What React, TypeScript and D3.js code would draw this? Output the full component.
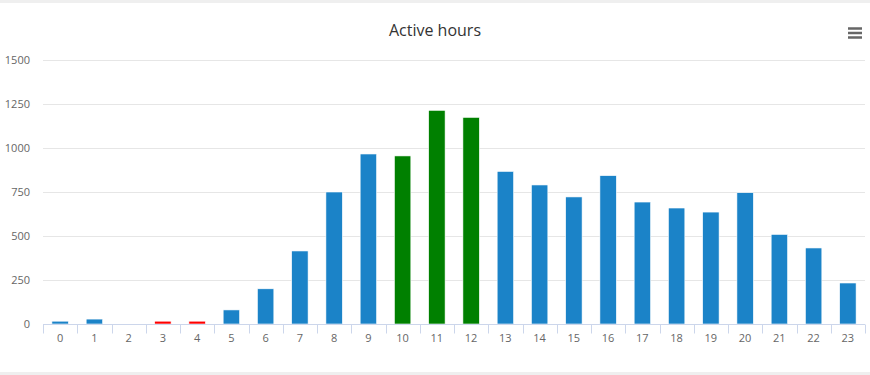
import React, { useEffect, useRef } from 'react'
import * as d3 from 'd3'

const hours = ['0', '1', '2', '3', '4', '5', '6', '7', '8', '9', '10', '11', '12', '13', '14', '15', '16', '17', '18', '19', '20', '21', '22', '23']
const activity = [16, 28, 0, 16, 16, 80, 200, 415, 750, 966, 955, 1214, 1174, 867, 790, 722, 843, 693, 659, 636, 746, 509, 432, 233]
const lowHours = ['3', '4']
const peakHours = ['10', '11', '12']
const yTicks = [0, 250, 500, 750, 1000, 1250, 1500]

const App = () => {
    const ref = useRef<SVGSVGElement>(null)

    useEffect(() => {
        const width = 870
        const height = 375
        const margin = { top: 60, right: 5, bottom: 51, left: 43 }

        const svg = d3.select(ref.current)
        svg.selectAll('*').remove()

        // light frame bands at top and bottom
        svg.append('rect').attr('x', 0).attr('y', 0).attr('width', width).attr('height', 3).attr('fill', '#efefef')
        svg.append('rect').attr('x', 0).attr('y', height - 3).attr('width', width).attr('height', 3).attr('fill', '#efefef')

        svg.append('text')
            .attr('x', width / 2)
            .attr('y', 36)
            .attr('text-anchor', 'middle')
            .attr('font-size', 16)
            .attr('fill', '#333333')
            .text('Active hours')

        // context menu icon
        const menu = svg.append('g').attr('stroke', '#666666').attr('stroke-width', 2.5)
        ;[28.5, 33, 37.5].forEach(y => {
            menu.append('line').attr('x1', 848).attr('x2', 862).attr('y1', y).attr('y2', y)
        })

        const x = d3.scaleBand().domain(hours).range([margin.left, width - margin.right])
        const y = d3.scaleLinear().domain([0, 1500]).range([height - margin.bottom, margin.top])

        const g = svg.append('g')

        g.append('g')
            .selectAll('line')
            .data(yTicks)
            .enter()
            .append('line')
            .attr('x1', margin.left)
            .attr('x2', width - margin.right)
            .attr('y1', d => Math.round(y(d)) + 0.5)
            .attr('y2', d => Math.round(y(d)) + 0.5)
            .attr('stroke', '#e6e6e6')

        g.append('g')
            .selectAll('text')
            .data(yTicks)
            .enter()
            .append('text')
            .attr('x', 30)
            .attr('y', d => y(d) + 4)
            .attr('text-anchor', 'end')
            .attr('font-size', 11)
            .attr('fill', '#666666')
            .text(d => d)

        const bw = x.bandwidth() * 0.48
        g.append('g')
            .selectAll('rect')
            .data(activity)
            .enter()
            .append('rect')
            .attr('x', (d, i) => x(hours[i])! + (x.bandwidth() - bw) / 2)
            .attr('y', d => y(d))
            .attr('width', bw)
            .attr('height', d => y(0) - y(d))
            .attr('fill', (d, i) => peakHours.includes(hours[i]) ? '#008000' : lowHours.includes(hours[i]) ? '#ff0000' : '#1b83c8')
            .attr('stroke', '#ffffff')
            .attr('stroke-width', 0.6)

        const axisY = Math.round(y(0)) + 0.5
        g.append('line')
            .attr('x1', margin.left)
            .attr('x2', width - margin.right)
            .attr('y1', axisY)
            .attr('y2', axisY)
            .attr('stroke', '#ccd6eb')

        const bounds = hours.map(h => x(h)!).concat([width - margin.right])
        g.append('g')
            .selectAll('line')
            .data(bounds)
            .enter()
            .append('line')
            .attr('x1', d => Math.round(d) + 0.5)
            .attr('x2', d => Math.round(d) + 0.5)
            .attr('y1', axisY)
            .attr('y2', axisY + 9)
            .attr('stroke', '#ccd6eb')

        g.append('g')
            .selectAll('text')
            .data(hours)
            .enter()
            .append('text')
            .attr('x', d => x(d)! + x.bandwidth() / 2)
            .attr('y', axisY + 17)
            .attr('text-anchor', 'middle')
            .attr('font-size', 11)
            .attr('fill', '#666666')
            .text(d => d)
    }, [])

    return (
        <svg
            ref={ref}
            width={870}
            height={375}
            style={{ position: 'absolute', left: 0, top: 0, fontFamily: '"Open Sans", sans-serif', background: '#fff' }}
        />
    )
}

export default App
